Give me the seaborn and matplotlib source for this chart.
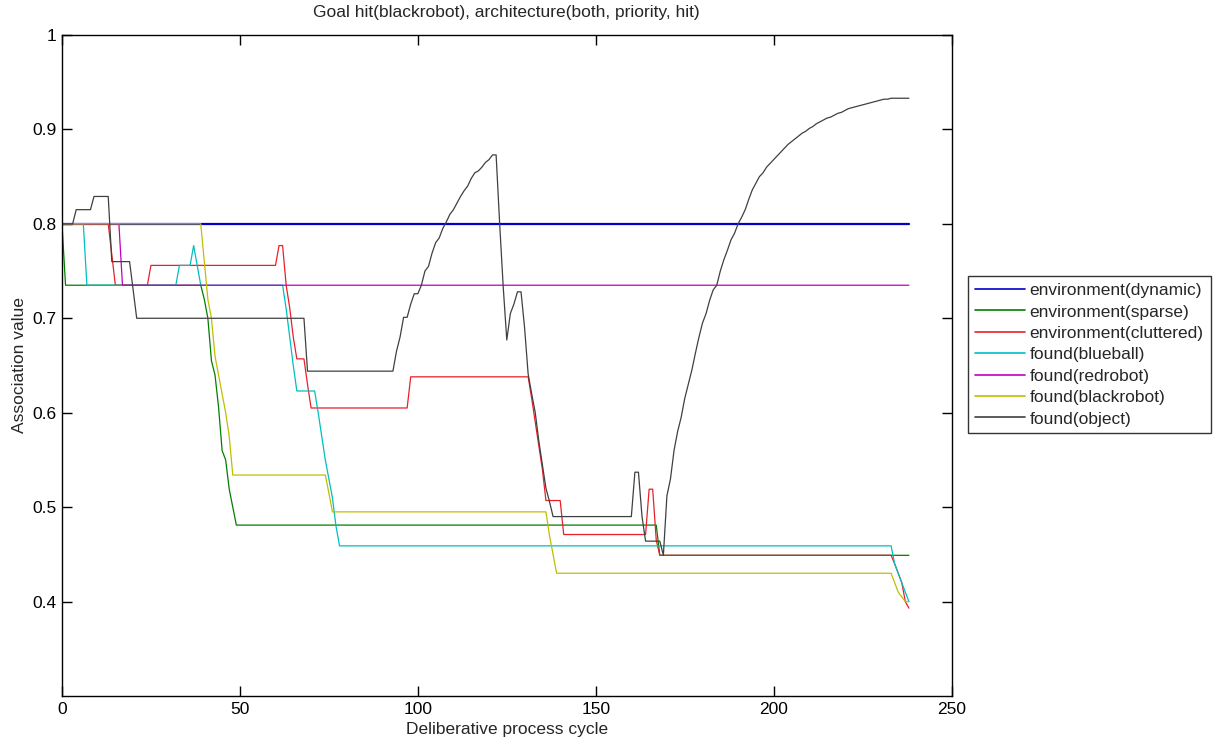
import matplotlib
matplotlib.use("Agg")
import matplotlib.pyplot as plt
import seaborn as sns
import pandas as pd

# Association value of each item per deliberative cycle (vertices of each trace).
dynamic_x = [0, 238]
dynamic_y = [0.8, 0.8]

sparse_x = [0, 1, 39, 40, 41, 42, 43, 44, 45, 46, 47, 48, 49, 167, 168, 238]
sparse_y = [0.8, 0.735, 0.735, 0.72, 0.70, 0.655, 0.64, 0.606, 0.56, 0.55, 0.519,
            0.50, 0.481, 0.481, 0.449, 0.449]

cluttered_x = [0, 13, 15, 24, 25, 60, 61, 62, 63, 64, 65, 66, 68, 69, 70, 97, 98,
               131, 132, 133, 134, 135, 136, 140, 141, 164, 165, 166, 167, 168,
               233, 234, 235, 236, 237, 238]
cluttered_y = [0.8, 0.8, 0.735, 0.735, 0.756, 0.756, 0.777, 0.777, 0.735, 0.711,
               0.68, 0.657, 0.657, 0.63, 0.605, 0.605, 0.638, 0.638, 0.615, 0.59,
               0.565, 0.54, 0.507, 0.507, 0.471, 0.471, 0.519, 0.519, 0.465,
               0.449, 0.449, 0.44, 0.43, 0.42, 0.40, 0.393]

blueball_x = [0, 6, 7, 32, 33, 36, 37, 38, 39, 62, 63, 64, 65, 66, 71, 72, 73, 74,
              75, 76, 77, 78, 233, 234, 235, 236, 237, 238]
blueball_y = [0.8, 0.8, 0.735, 0.735, 0.756, 0.756, 0.777, 0.756, 0.735, 0.735,
              0.71, 0.68, 0.65, 0.623, 0.623, 0.60, 0.575, 0.55, 0.53, 0.51, 0.48,
              0.459, 0.459, 0.44, 0.43, 0.42, 0.41, 0.40]

redrobot_x = [0, 16, 17, 238]
redrobot_y = [0.8, 0.8, 0.735, 0.735]

blackrobot_x = [0, 39, 40, 41, 42, 43, 44, 45, 46, 47, 48, 74, 75, 76, 136, 137,
                138, 139, 233, 234, 235, 236, 237, 238]
blackrobot_y = [0.8, 0.8, 0.76, 0.72, 0.70, 0.66, 0.64, 0.62, 0.60, 0.575, 0.534,
                0.534, 0.515, 0.495, 0.495, 0.47, 0.45, 0.43, 0.43, 0.42, 0.41,
                0.405, 0.40, 0.40]

object_x = [0, 3, 4, 8, 9, 13, 14, 19, 20, 21, 68, 69, 93, 94, 95, 96, 97, 98, 99,
            100, 101, 102, 103, 104, 105, 106, 107, 108, 109, 110, 111, 112, 113,
            114, 115, 116, 117, 118, 119, 120, 121, 122, 123, 124, 125, 126, 127,
            128, 129, 130, 131, 132, 133, 134, 135, 136, 137, 138, 160, 161, 162,
            163, 164, 168, 169, 170, 171, 172, 173, 174, 175, 176, 177, 178, 179,
            180, 181, 182, 183, 184, 185, 186, 187, 188, 189, 190, 191, 192, 193,
            194, 195, 196, 197, 198, 199, 200, 201, 202, 203, 204, 205, 206, 207,
            208, 209, 210, 211, 212, 213, 214, 215, 216, 217, 218, 219, 220, 221,
            222, 223, 224, 225, 226, 227, 228, 229, 230, 231, 232, 233, 238]
object_y = [0.8, 0.8, 0.815, 0.815, 0.829, 0.829, 0.76, 0.76, 0.73, 0.70, 0.70,
            0.644, 0.644, 0.665, 0.68, 0.701, 0.701, 0.715, 0.726, 0.726, 0.735,
            0.75, 0.755, 0.769, 0.78, 0.785, 0.795, 0.802, 0.81, 0.815, 0.822,
            0.829, 0.835, 0.84, 0.848, 0.854, 0.856, 0.86, 0.865, 0.868, 0.873,
            0.873, 0.80, 0.733, 0.677, 0.705, 0.715, 0.728, 0.728, 0.69, 0.641,
            0.62, 0.60, 0.57, 0.545, 0.52, 0.506, 0.49, 0.49, 0.537, 0.537, 0.49,
            0.464, 0.464, 0.449, 0.512, 0.53, 0.56, 0.58, 0.595, 0.615, 0.63,
            0.645, 0.663, 0.68, 0.695, 0.705, 0.719, 0.73, 0.735, 0.75, 0.762,
            0.772, 0.783, 0.79, 0.80, 0.807, 0.815, 0.826, 0.836, 0.843, 0.85,
            0.854, 0.86, 0.864, 0.868, 0.872, 0.876, 0.88, 0.884, 0.887, 0.89,
            0.893, 0.896, 0.898, 0.901, 0.903, 0.906, 0.908, 0.91, 0.912, 0.913,
            0.915, 0.917, 0.918, 0.92, 0.922, 0.923, 0.924, 0.925, 0.926, 0.927,
            0.928, 0.929, 0.93, 0.931, 0.932, 0.932, 0.933, 0.933]

series_names = ["environment(dynamic)", "environment(sparse)",
                "environment(cluttered)", "found(blueball)", "found(redrobot)",
                "found(blackrobot)", "found(object)"]
series_x = [dynamic_x, sparse_x, cluttered_x, blueball_x, redrobot_x,
            blackrobot_x, object_x]
series_y = [dynamic_y, sparse_y, cluttered_y, blueball_y, redrobot_y,
            blackrobot_y, object_y]
series_colors = ["#0000c8", "#007f00", "#e8202a", "#00bfbf", "#bf00bf",
                 "#bfbf00", "#404040"]
series_widths = [1.6, 0.9, 0.9, 0.9, 0.9, 0.9, 0.9]

x_ticks = [0, 50, 100, 150, 200, 250]
y_ticks = [0.4, 0.5, 0.6, 0.7, 0.8, 0.9, 1.0]
y_tick_labels = ["0.4", "0.5", "0.6", "0.7", "0.8", "0.9", "1"]

sns.set_style("ticks")
plt.rcParams["font.family"] = ["Liberation Sans", "DejaVu Sans"]
FS = 12.5

fig = plt.figure(figsize=(12.2, 7.44), dpi=100)
ax = fig.add_axes([0.0508, 0.0645, 0.7292, 0.8885])

for name, xs, ys, col, lw in zip(series_names, series_x, series_y,
                                 series_colors, series_widths):
    df = pd.DataFrame({"cycle": xs, "value": ys})
    sns.lineplot(data=df, x="cycle", y="value", ax=ax, color=col, lw=lw,
                 label=name, estimator=None, sort=False)

ax.set_xlim(0, 250)
ax.set_ylim(0.3, 1.0)
ax.set_xticks(x_ticks)
ax.set_xticklabels([str(t) for t in x_ticks])
ax.set_yticks(y_ticks)
ax.set_yticklabels(y_tick_labels)
ax.tick_params(direction="in", length=7, width=1, top=True, right=True,
               labelsize=FS, colors="black", pad=4)
for sp in ax.spines.values():
    sp.set_visible(True)
    sp.set_linewidth(1.0)
    sp.set_color("black")

ax.set_title("Goal hit(blackrobot), architecture(both, priority, hit)",
             fontsize=FS, pad=13)
ax.set_xlabel("Deliberative process cycle", fontsize=FS, labelpad=4)
ax.set_ylabel("Association value", fontsize=FS, labelpad=4)

leg = ax.legend(loc="upper left", bbox_to_anchor=(0.7934, 0.629),
                bbox_transform=fig.transFigure, frameon=True, fancybox=False,
                fontsize=FS, handlelength=2.9, handletextpad=0.25,
                labelspacing=0.36, borderpad=0.4, borderaxespad=0)
leg.get_frame().set_edgecolor("black")
leg.get_frame().set_linewidth(1.0)
for h in leg.get_lines():
    h.set_linewidth(1.2)

fig.savefig("out.png", dpi=100)
